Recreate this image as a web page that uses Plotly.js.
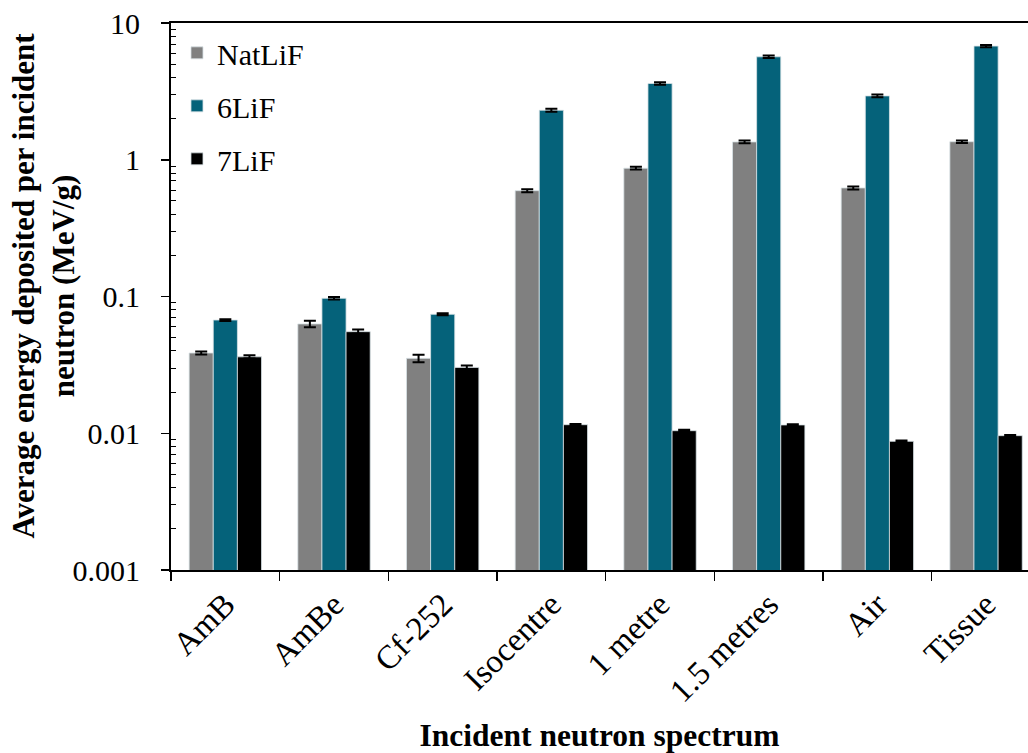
<!DOCTYPE html>
<html>
<head>
<meta charset="utf-8">
<script src="https://cdn.plot.ly/plotly-3.0.1.min.js"></script>
<style>
  html, body { margin: 0; padding: 0; background: #fff; }
  #chart { width: 1028px; height: 753px; }
</style>
</head>
<body>
<div id="chart"></div>
<script>
// Incident neutron spectra (x categories)
const spectra = ["AmB", "AmBe", "Cf-252", "Isocentre", "1 metre", "1.5 metres", "Air", "Tissue"];

// Average energy deposited per incident neutron (MeV/g)
const natLiF = [0.0386, 0.063, 0.0353, 0.594, 0.867, 1.35, 0.622, 1.355];
const li6F   = [0.0673, 0.097, 0.0741, 2.30, 3.61, 5.66, 2.93, 6.78];
const li7F   = [0.0362, 0.0553, 0.0303, 0.01155, 0.01044, 0.01150, 0.00873, 0.0096];

// Uncertainties (one standard deviation)
const natLiFErr = [0.0010, 0.0035, 0.0022, 0.015, 0.020, 0.030, 0.015, 0.030];
const li6FErr   = [0.0010, 0.0020, 0.0012, 0.06, 0.08, 0.12, 0.07, 0.12];
const li7FErr   = [0.0010, 0.0020, 0.0010, 0.00015, 0.00015, 0.00015, 0.00012, 0.00013];

const seriesNames = ["NatLiF", "6LiF", "7LiF"];
const seriesColors = ["#808080", "#05627A", "#000000"];

const serif = '"Liberation Serif", "Times New Roman", Times, serif';

function barTrace(i, values, errors) {
  return {
    type: "bar",
    name: seriesNames[i],
    legendgroup: seriesNames[i],
    x: spectra,
    y: values,
    marker: { color: seriesColors[i], line: { color: "#d8e2e6", width: 0.8 } },
    error_y: { type: "data", array: errors, visible: true, color: "#000", thickness: 2, width: 6 }
  };
}

const data = [
  barTrace(0, natLiF, natLiFErr),
  barTrace(1, li6F, li6FErr),
  barTrace(2, li7F, li7FErr)
];

const layout = {
  width: 1028,
  height: 753,
  margin: { l: 171, r: 0, t: 23, b: 183 },
  paper_bgcolor: "#fff",
  plot_bgcolor: "#fff",
  barmode: "group",
  bargap: 0.334,
  bargroupgap: 0,
  font: { family: serif, color: "#000" },
  showlegend: true,
  legend: {
    x: 0.007, y: 0.993, xanchor: "left", yanchor: "top",
    bgcolor: "rgba(0,0,0,0)",
    font: { family: serif, size: 30, color: "#000" },
    traceorder: "grouped",
    tracegroupgap: 11
  },
  xaxis: {
    type: "category",
    range: [-0.5, 7.386],
    showline: true, linecolor: "#000", linewidth: 2, mirror: true,
    ticks: "outside", tickson: "boundaries", ticklen: 9, tickwidth: 1.5, tickcolor: "#000",
    tickangle: -45,
    tickfont: { family: serif, size: 33, color: "#000" },
    showgrid: false, zeroline: false,
    title: { text: "<b>Incident neutron spectrum</b>", font: { family: serif, size: 31.5, color: "#000" }, standoff: 30 }
  },
  yaxis: {
    type: "log",
    range: [-3, 1],
    tickvals: [0.001, 0.01, 0.1, 1, 10],
    ticktext: ["0.001", "0.01", "0.1", "1", "10"],
    showline: true, linecolor: "#000", linewidth: 2,
    ticks: "outside", ticklen: 8, tickwidth: 1.5, tickcolor: "#000",
    ticklabelstandoff: 15,
    tickfont: { family: serif, size: 30, color: "#000" },
    showgrid: false, zeroline: false,
    minor: { ticks: "inside", ticklen: 5, tickwidth: 1, tickcolor: "#000", showgrid: false,
             tickvals: [0.002,0.003,0.004,0.005,0.006,0.007,0.008,0.009,
                        0.02,0.03,0.04,0.05,0.06,0.07,0.08,0.09,
                        0.2,0.3,0.4,0.5,0.6,0.7,0.8,0.9,
                        2,3,4,5,6,7,8,9] }
  },
  annotations: [{
    // vertical axis title, placed beside the tick labels
    text: "<b>Average energy deposited per incident<br>neutron (MeV/g)</b>",
    font: { family: serif, size: 31, color: "#000" },
    textangle: -90,
    xref: "paper", yref: "paper",
    x: 0, y: 0.5, xanchor: "center", yanchor: "middle",
    xshift: -128, yshift: 11,
    showarrow: false
  }]
};

Plotly.newPlot("chart", data, layout, { displayModeBar: false, staticPlot: true });
</script>
</body>
</html>
